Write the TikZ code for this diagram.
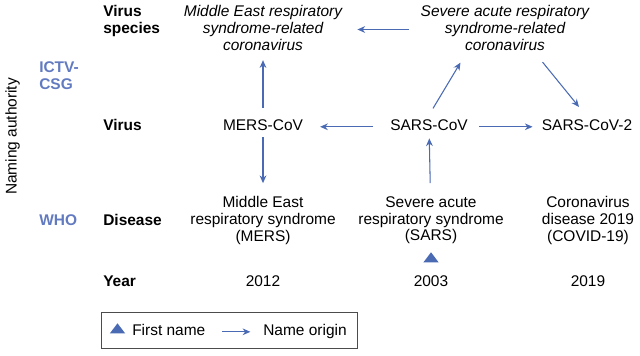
\documentclass[tikz,border=0pt]{standalone}
\usepackage{fontspec}
\setmainfont{Liberation Sans}
\usetikzlibrary{positioning, shapes.geometric, arrows.meta, calc}
\definecolor{namblue}{RGB}{74,106,180}
\definecolor{authblue}{RGB}{98,122,192}

\begin{document}
\begin{tikzpicture}[x=0.025cm, y=-0.025cm, >={Stealth[length=5.5pt,width=4.8pt]},
  every node/.style={inner sep=0pt, font=\fontsize{11}{11.8}\selectfont},
  rowlabel/.style={font=\fontsize{11}{11.8}\selectfont\bfseries, align=left},
  authority/.style={rowlabel, text=authblue},
  entry/.style={align=center},
  species/.style={entry, font=\fontsize{11}{11.8}\selectfont\itshape},
  arr/.style={->, namblue, line width=0.75pt},
  firstname/.style={regular polygon, regular polygon sides=3, fill=namblue, minimum size=9.6pt, xscale=1.3}]
  \useasboundingbox (0,0) rectangle (640,356);

  % row labels and naming authorities
  \node[rotate=90, anchor=base] (naming) at (16.5,136.5) {Naming authority};
  \node[authority, anchor=north west] (ictv) at (39,61.5) {ICTV-\\CSG};
  \node[authority, anchor=base west] (who) at (39,225.5) {WHO};
  \node[rowlabel, anchor=north west] (lspecies) at (103,5.5) {Virus\\species};
  \node[rowlabel, anchor=base west] (lvirus) at (103,130.5) {Virus};
  \node[rowlabel, anchor=base west] (ldisease) at (103,225.5) {Disease};
  \node[rowlabel, anchor=base west] (lyear) at (103,286.5) {Year};

  % virus species
  \node[species, anchor=north] (merssp) at (263,5.5) {Middle East respiratory\\syndrome-related\\coronavirus};
  \node[species, anchor=north] (sarssp) at (505,5.5) {Severe acute respiratory\\syndrome-related\\coronavirus};

  % viruses
  \node[anchor=base] (merscov) at (263,130.5) {MERS-CoV};
  \node[anchor=base] (sarscov) at (429,130.5) {SARS-CoV};
  \node[anchor=base] (sarscov2) at (587,130.5) {SARS-CoV-2};

  % diseases
  \node[entry, anchor=north] (mersdis) at (263,196.5) {Middle East\\respiratory syndrome\\(MERS)};
  \node[entry, anchor=north] (sarsdis) at (431,196.5) {Severe acute\\respiratory syndrome\\(SARS)};
  \node[entry, anchor=north] (coviddis) at (588,196.5) {Coronavirus\\disease 2019\\(COVID-19)};
  \node[firstname] (sarsfirst) at (431,259) {};

  % years
  \node[anchor=base] (y2012) at (263,286.5) {2012};
  \node[anchor=base] (y2003) at (431,286.5) {2003};
  \node[anchor=base] (y2019) at (588,286.5) {2019};

  % name origins
  \draw[arr, shorten <=8pt, shorten >=6.8pt] (merscov) -- (merssp);
  \draw[arr, shorten <=4.6pt, shorten >=9.5pt] (merscov) -- (mersdis);
  \draw[arr, shorten <=8.5pt, shorten >=10.7pt] (sarssp.west |- 0,29.5) -- (merssp.east |- 0,29.5);
  \draw[arr, shorten <=12pt, shorten >=12pt] (sarscov.mid west) -- (merscov.mid east);
  \draw[arr, shorten <=7.8pt, shorten >=6.4pt] (sarscov.mid east) -- (sarscov2.mid west);
  \draw[arr] ([shift={(4,-11)}]sarscov.north) -- ([shift={(40,12)}]sarssp.south west);
  \draw[arr] ([shift={(-47,11.5)}]sarssp.south east) -- ([shift={(-8,-12.5)}]sarscov2.north);
  \draw[arr, shorten <=9.5pt, shorten >=5.3pt] (sarsdis) -- (sarscov);

  % legend
  \node[draw=black!70, line width=0.6pt, minimum width=6.4cm, minimum height=0.9cm] (legend) at (229,330) {};
  \node[firstname] (lgfirst) at (117.5,330) {};
  \node[anchor=west] (lgfirsttxt) at (132,330) {First name};
  \node[anchor=mid west] (lgorigin) at (lgfirsttxt.mid -| 263,0) {Name origin};
  \draw[arr, shorten <=12pt, shorten >=9pt] (lgfirsttxt.mid east) -- (lgorigin.mid west);
\end{tikzpicture}
\end{document}
